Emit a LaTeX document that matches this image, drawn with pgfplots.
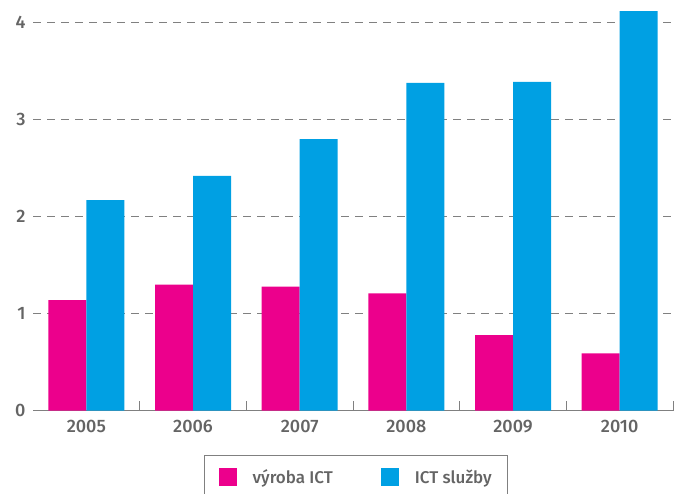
\documentclass[border=0pt]{standalone}
\usepackage{fontspec}
\setmainfont{Fira Sans}[BoldFont={Fira Sans Medium}]
\usepackage{pgfplots}
\pgfplotsset{compat=1.18}
\definecolor{cpink}{RGB}{236,0,140}
\definecolor{cblue}{RGB}{0,160,227}
\definecolor{ctext}{RGB}{100,100,100}
\definecolor{cgrid}{RGB}{128,128,128}
\begin{document}
\begin{tikzpicture}[x=1pt,y=1pt]
\begin{axis}[
  at={(0,0)}, anchor=south west,
  scale only axis, width=640pt, height=410.7pt,
  xmin=-0.5, xmax=5.5, ymin=0, ymax=4.234,
  ybar=0pt, bar width=38pt,
  axis x line*=bottom, axis y line*=left,
  y axis line style={draw=none},
  x axis line style={draw=cgrid, line width=1.2pt, -},
  xtick={0,...,5}, xticklabels={2005,2006,2007,2008,2009,2010},
  major x tick style={draw=none},
  minor xtick={0.5,1.5,2.5,3.5,4.5,5.5},
  minor tick length=10pt,
  minor x tick style={draw=cgrid, line width=1pt},
  tick align=inside,
  ytick={0,1,2,3,4},
  major y tick style={draw=none},
  ymajorgrids, grid style={draw=cgrid, dash pattern=on 8pt off 6pt, line width=1pt},
  every tick label/.append style={font=\fontsize{18}{21}\selectfont\bfseries, text=ctext},
  xticklabel style={yshift=-6pt},
  yticklabel style={xshift=-4pt},
  /pgf/number format/assume math mode=true,
  legend style={at={(0.505,-44.3pt)}, anchor=north, draw=cgrid, line width=1pt,
     legend columns=2, font=\fontsize{17}{20}\selectfont\bfseries, text=ctext,
     /tikz/every odd column/.append style={column sep=14pt},
     /tikz/every even column/.append style={column sep=46pt},
     inner xsep=14pt, inner ysep=12pt},
  legend image code/.code={\fill[#1] (0pt,-9pt) rectangle (18pt,9pt);},
  clip=false,
]
\addplot[fill=cpink, draw=none] coordinates {(0,1.14) (1,1.30) (2,1.28) (3,1.21) (4,0.78) (5,0.59)};
\addplot[fill=cblue, draw=none] coordinates {(0,2.17) (1,2.42) (2,2.80) (3,3.38) (4,3.39) (5,4.12)};
\legend{výroba ICT, ICT služby}
\end{axis}
\pgfresetboundingbox
\path[use as bounding box] (-33,-83.3) rectangle (641,410.7);
\end{tikzpicture}
\end{document}
